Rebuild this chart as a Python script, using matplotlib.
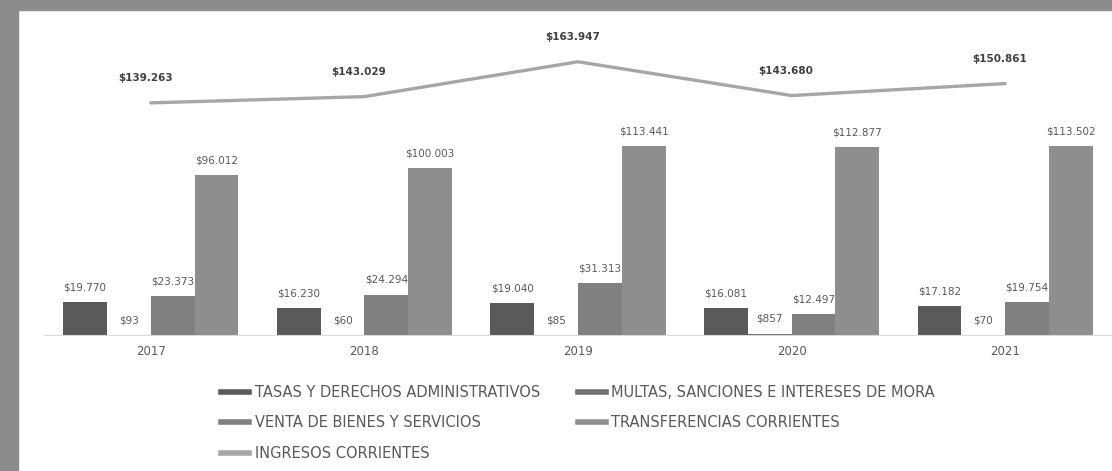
import numpy as np
import matplotlib.pyplot as plt
from matplotlib.lines import Line2D
from matplotlib.patches import Rectangle

years = ["2017", "2018", "2019", "2020", "2021"]
tasas = [19770, 16230, 19040, 16081, 17182]
multas = [93, 60, 85, 857, 70]
venta = [23373, 24294, 31313, 12497, 19754]
transferencias = [96012, 100003, 113441, 112877, 113502]
ingresos = [139263, 143029, 163947, 143680, 150861]

series_names = [
    "TASAS Y DERECHOS ADMINISTRATIVOS",
    "MULTAS, SANCIONES E INTERESES DE MORA",
    "VENTA DE BIENES Y SERVICIOS",
    "TRANSFERENCIAS CORRIENTES",
]
line_name = "INGRESOS CORRIENTES"
bar_colors = ["#5a5a5a", "#6f6f6f", "#808080", "#8e8e8e"]
line_color = "#a6a6a6"


def fmt(v):
    return "$" + f"{v:,.0f}".replace(",", ".")


fig = plt.figure(figsize=(11.12, 4.71), dpi=100)
# gray frame of the original screenshot
fig.patches.append(Rectangle((0, 0), 18 / 1112, 1, transform=fig.transFigure,
                             color="#8c8c8c", zorder=0))
fig.patches.append(Rectangle((0, 1 - 10 / 471), 1, 10 / 471, transform=fig.transFigure,
                             color="#8c8c8c", zorder=0))

ax = fig.add_axes([44 / 1112, 136 / 471, 1068 / 1112, 315 / 471])
ax.set_facecolor("none")

x = np.arange(len(years))
w = 0.205
all_bars = [tasas, multas, venta, transferencias]
for i, (vals, c) in enumerate(zip(all_bars, bar_colors)):
    pos = x + (i - 1.5) * w
    ax.bar(pos, vals, width=w, color=c, zorder=2)
    for p, v in zip(pos, vals):
        ax.annotate(fmt(v), (p, v), xytext=(0, 7), textcoords="offset points",
                    ha="center", va="bottom", fontsize=7.5, color="#595959")

ax.plot(x, ingresos, color=line_color, lw=2.4, zorder=3, solid_capstyle="round")
for xi, v in zip(x, ingresos):
    ax.annotate(fmt(v), (xi, v), xytext=(-4, 14), textcoords="offset points",
                ha="center", va="bottom", fontsize=7.5, color="#404040",
                fontweight="bold")

ax.set_xlim(-0.5, 4.5)
ax.set_ylim(0, 189000)
ax.set_xticks(x)
ax.set_xticklabels(years, fontsize=8.5, color="#595959")
ax.tick_params(axis="x", length=0, pad=7)
ax.set_yticks([])
for s in ["top", "right", "left"]:
    ax.spines[s].set_visible(False)
ax.spines["bottom"].set_color("#d9d9d9")

handles = [
    Line2D([], [], color=bar_colors[0], lw=4),
    Line2D([], [], color=bar_colors[2], lw=4),
    Line2D([], [], color=line_color, lw=4),
    Line2D([], [], color=bar_colors[1], lw=4),
    Line2D([], [], color=bar_colors[3], lw=4),
]
labels = [series_names[0], series_names[2], line_name, series_names[1], series_names[3]]
fig.legend(handles, labels, loc="upper left", bbox_to_anchor=(208 / 1112, 1 - 372 / 471),
           ncol=2, frameon=False, fontsize=10.5, labelcolor="#595959",
           handlelength=1.9, handletextpad=0.4, labelspacing=1.05, columnspacing=2.6)

fig.savefig("out.png", dpi=100)
